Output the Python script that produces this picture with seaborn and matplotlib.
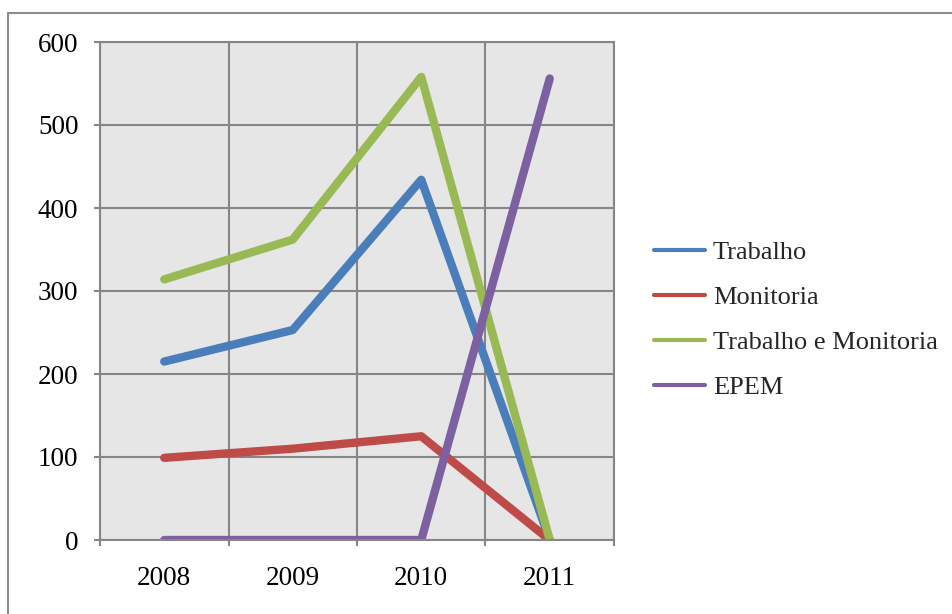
import numpy as np
import pandas as pd
import matplotlib
matplotlib.use("Agg")
import matplotlib.pyplot as plt
import seaborn as sns
from matplotlib.lines import Line2D
from matplotlib.patches import Rectangle

years = ["2008", "2009", "2010", "2011"]
series = ["Trabalho", "Monitoria", "Trabalho e Monitoria", "EPEM"]
trabalho = [215, 253, 434, 0]
monitoria = [99, 110, 125, 0]
trab_monit = [314, 362, 558, 0]
epem = [0, 0, 0, 556]
colors = ["#4A7EBB", "#BE4B48", "#98B954", "#7D60A0"]

df = pd.DataFrame({
    "pos": list(range(len(years))) * len(series),
    "valor": trabalho + monitoria + trab_monit + epem,
    "serie": np.repeat(series, len(years)),
})

sns.set_theme(style="white")
plt.rcParams["font.family"] = ["Liberation Serif", "DejaVu Serif"]

GRID = "#868686"
fig = plt.figure(figsize=(9.52, 6.14), dpi=100)
ax = fig.add_axes([100 / 952, 74 / 614, 514 / 952, 498 / 614])

sns.lineplot(data=df, x="pos", y="valor", hue="serie", hue_order=series,
             palette=colors, lw=6, ax=ax, legend=False, sort=False,
             estimator=None)
for l in ax.lines:
    l.set_solid_capstyle("round")
    l.set_solid_joinstyle("round")

ax.set_facecolor("#E6E6E6")
ax.set_xlim(-0.5, 3.5)
ax.set_ylim(0, 600)
ax.set_xticks(np.arange(-0.5, 4, 1))
ax.set_xticklabels([])
ax.set_xticks(range(len(years)), minor=True)
ax.set_xticklabels(years, minor=True, fontsize=19.5)
ax.set_yticks(range(0, 601, 100))
ax.set_yticklabels([str(v) for v in range(0, 601, 100)], fontsize=19.5)
ax.tick_params(axis="x", which="minor", length=0, pad=19, labelcolor="black")
ax.tick_params(axis="x", which="major", length=4.5, width=1.5, color=GRID, direction="out", bottom=True)
ax.tick_params(axis="y", which="major", length=4.5, width=1.5, color=GRID, direction="out", left=True, pad=11, labelcolor="black")
ax.grid(True, which="major", color=GRID, lw=1.5)
ax.set_axisbelow(True)
for s in ax.spines.values():
    s.set_color(GRID)
    s.set_linewidth(1.5)
ax.set_xlabel("")
ax.set_ylabel("")

handles = [Line2D([0], [0], color=c, lw=3, solid_capstyle="round") for c in colors]
fig.legend(handles, series, loc="center left", bbox_to_anchor=(654 / 952, 1 - 320 / 614),
           frameon=False, fontsize=19, handlelength=1.95, handletextpad=0.28,
           labelspacing=0.82, borderpad=0, borderaxespad=0)

fig.add_artist(Rectangle((8 / 952, -0.1), 1.2, 1 - 13 / 614 + 0.1,
                         transform=fig.transFigure, facecolor="none",
                         edgecolor="#8C8C8C", lw=1.5, clip_on=False))

fig.savefig("out.png", dpi=100)
